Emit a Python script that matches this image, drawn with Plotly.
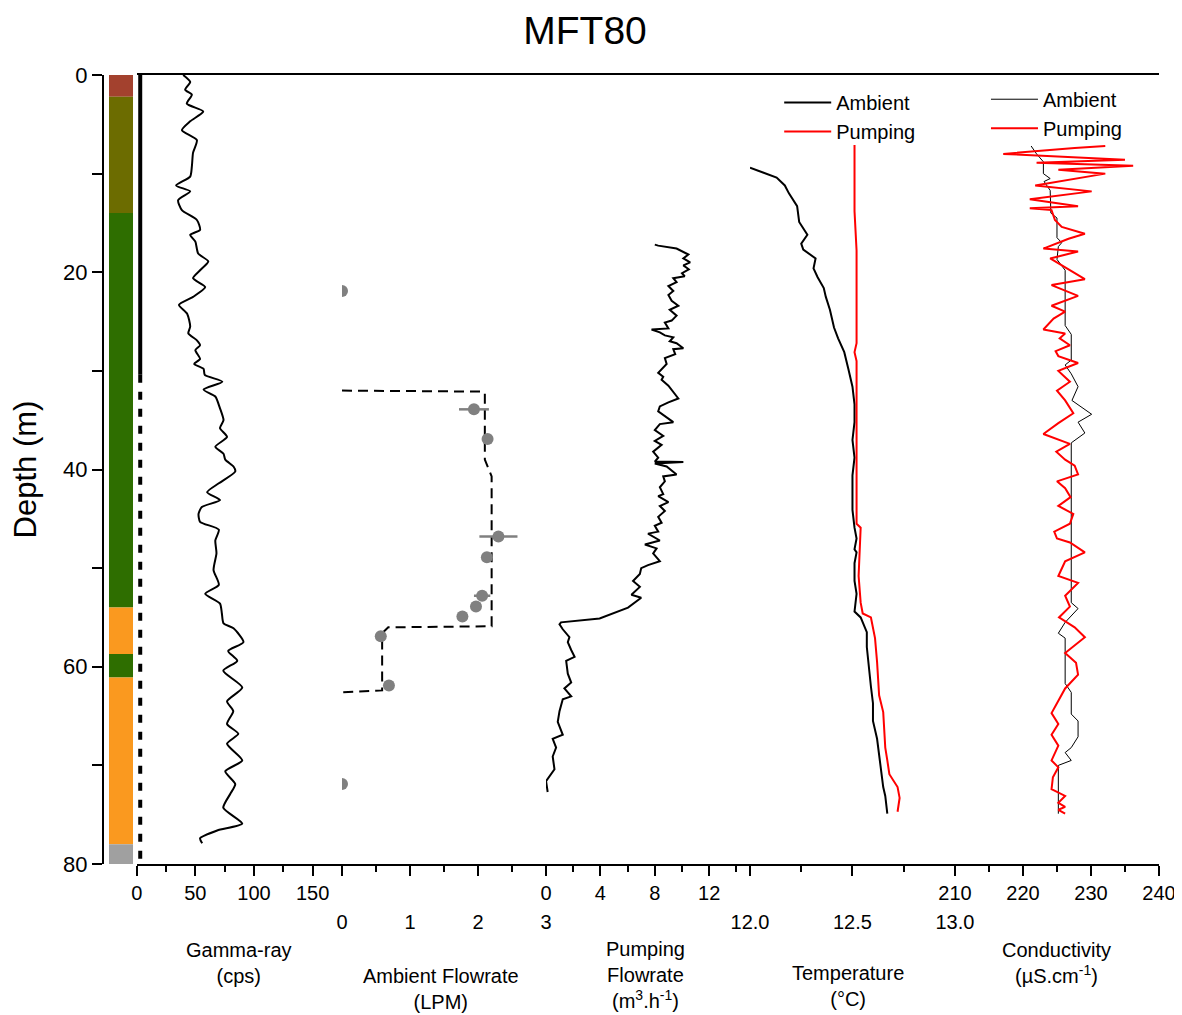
import plotly.graph_objects as go

# ---------------- data ----------------
litho_top = [0.0, 2.2, 14.0, 54.0, 58.7, 61.1, 78.0]
litho_bottom = [2.2, 14.0, 54.0, 58.7, 61.1, 78.0, 80.0]
litho_colors = ["#A3412E", "#6C6C00", "#2E6E00", "#FA991F", "#2E6E00", "#FA991F", "#A0A0A0"]

casing_solid_depth = [0.0, 30.4]
casing_dash_depth = [30.4, 79.7]
casing_cps = [3, 3]

gamma_depth = [0.0, 0.7, 1.5, 2.0, 2.9, 3.7, 4.7, 5.6, 6.6, 7.9, 9.3, 10.3, 11.2, 11.8, 12.7, 13.7,
               14.7, 15.7, 16.2, 16.9, 18.1, 18.9, 19.8, 20.6, 21.5, 22.5, 23.3, 24.2, 25.5, 26.2,
               26.9, 27.4, 27.9, 28.8, 29.3, 29.8, 30.4, 31.1, 31.9, 32.6, 33.8, 35.0, 35.8, 36.7,
               37.7, 38.4, 39.0, 39.7, 40.2, 41.4, 42.3, 43.1, 43.8, 44.5, 45.3, 46.1, 47.2, 48.5,
               50.2, 51.7, 52.6, 53.6, 54.6, 55.6, 56.1, 57.5, 58.4, 59.4, 60.4, 62.1, 63.5, 64.5,
               65.8, 66.8, 67.8, 69.5, 70.6, 71.9, 72.9, 74.3, 75.9, 76.6, 77.4, 77.9]
gamma_cps = [39.6, 45.6, 41.3, 47.0, 42.7, 56.7, 45.6, 38.5, 51.3, 48.0, 47.0, 45.6, 33.6, 45.6, 35.3, 38.5,
             51.3, 54.0, 45.6, 50.0, 52.4, 61.0, 54.0, 48.0, 58.4, 48.0, 36.0, 43.0, 45.6, 44.0,
             51.3, 54.0, 50.0, 54.0, 49.0, 57.0, 58.0, 73.0, 57.0, 67.0, 71.0, 74.0, 71.0, 77.0,
             67.0, 74.0, 75.5, 82.5, 84.0, 70.0, 60.0, 71.0, 55.5, 52.7, 54.0, 70.0, 67.0, 68.0,
             65.5, 70.0, 58.4, 71.0, 72.6, 74.0, 82.5, 91.0, 78.0, 85.7, 73.8, 90.0, 77.0, 82.3,
             77.0, 86.6, 77.0, 90.0, 75.5, 84.0, 79.7, 73.8, 90.0, 68.6, 54.0, 55.8]

amb_model_depth = [32.0, 32.1, 32.3, 39.0, 40.7, 55.9, 56.0, 56.6, 62.4, 62.6]
amb_model_flow = [0.0, 2.08, 2.10, 2.10, 2.20, 2.20, 0.68, 0.59, 0.59, 0.0]

amb_pt_depth = [21.9, 33.9, 36.9, 46.8, 48.9, 52.8, 53.9, 54.9, 56.9, 61.9, 71.9]
amb_pt_flow = [0.0, 1.94, 2.14, 2.30, 2.13, 2.06, 1.97, 1.77, 0.57, 0.69, 0.0]
amb_pt_err = [0.0, 0.22, 0.05, 0.28, 0.05, 0.12, 0.05, 0.05, 0.06, 0.05, 0.0]

pump_depth = [17.2, 17.3, 17.6, 18.2, 18.6, 19.0, 19.3, 19.7, 20.1, 20.4, 20.6, 21.0, 21.4, 21.9, 22.3,
              22.9, 23.4, 23.8, 24.4, 24.9, 25.1, 25.7, 25.8, 26.1, 26.4, 26.6, 27.0, 27.2, 27.7, 27.8,
              28.3, 28.7, 29.3, 30.2, 30.6, 30.9, 31.5, 32.1, 32.8, 33.2, 33.6, 34.1, 34.7, 35.2, 35.4,
              36.0, 36.6, 37.1, 37.5, 38.2, 38.8, 39.2, 39.25, 39.4, 39.7, 40.5, 40.7, 41.2, 41.8, 42.5,
              42.7, 43.3, 43.7, 44.2, 44.8, 45.4, 45.7, 46.3, 46.5, 47.2, 47.6, 48.0, 48.5, 49.3, 49.7,
              50.0, 50.6, 51.3, 51.9, 52.7, 53.0, 53.6, 54.0, 55.1, 55.5, 55.7, 56.2, 57.0, 57.5, 58.3,
              59.0, 59.4, 60.7, 61.6, 62.2, 63.0, 63.3, 64.5, 65.6, 66.9, 67.3, 68.2, 69.1, 70.4, 71.2,
              71.6, 72.7]
pump_flow = [8.0, 8.25, 9.6, 10.47, 10.1, 10.6, 10.1, 10.5, 10.0, 10.2, 9.36, 9.6, 9.0, 9.36, 9.0,
             9.24, 9.73, 9.1, 9.6, 9.24, 8.74, 9.0, 7.76, 8.37, 8.74, 9.36, 9.1, 9.6, 10.1, 9.36,
             9.5, 8.74, 8.87, 8.25, 8.62, 8.5, 9.0, 9.36, 9.73, 9.0, 8.37, 8.25, 8.87, 9.36, 8.37,
             8.0, 8.62, 8.0, 8.5, 7.88, 8.25, 8.0, 10.1, 8.0, 8.87, 9.6, 8.62, 8.74, 8.37, 8.62,
             8.25, 9.0, 8.37, 8.74, 8.25, 8.5, 8.0, 8.25, 7.5, 8.37, 7.27, 8.13, 7.88, 8.37, 7.5,
             7.0, 6.9, 6.4, 6.9, 6.28, 7.0, 6.4, 6.03, 3.94, 1.1, 0.99, 1.23, 1.72, 1.6, 1.85,
             2.1, 1.48, 1.6, 1.85, 1.35, 1.85, 1.23, 0.99, 0.86, 1.23, 0.49, 0.74, 0.49, 0.62, 0.25,
             0.0, 0.12]

temp_amb_depth = [9.4, 9.9, 10.4, 11.2, 12.0, 13.3, 14.9, 16.2, 17.1, 17.7, 18.6, 19.6, 20.5, 21.6, 22.5,
                  23.8, 24.7, 25.6, 26.7, 28.1, 29.8, 31.6, 33.4, 35.2, 37.0, 38.8, 40.6, 42.3, 44.1,
                  45.9, 47.0, 48.1, 48.4, 49.5, 51.3, 52.6, 54.4, 55.0, 56.5, 58.0, 60.2, 62.0, 63.7,
                  65.5, 67.3, 69.1, 70.4, 72.2, 73.1, 74.9]
temp_amb = [12.00, 12.07, 12.13, 12.17, 12.19, 12.23, 12.24, 12.28, 12.25, 12.26, 12.32, 12.31, 12.33,
            12.36, 12.37, 12.39, 12.40, 12.41, 12.43, 12.46, 12.48, 12.50, 12.51, 12.51, 12.50, 12.51,
            12.50, 12.50, 12.50, 12.51, 12.52, 12.51, 12.52, 12.51, 12.51, 12.52, 12.51, 12.54, 12.57,
            12.57, 12.58, 12.59, 12.60, 12.60, 12.62, 12.63, 12.64, 12.65, 12.66, 12.67]

temp_pump_depth = [7.1, 9.3, 13.8, 17.8, 27.2, 28.1, 29.0, 37.9, 45.5, 45.9, 50.8, 53.5, 54.6, 55.0,
                   57.1, 59.5, 62.9, 64.6, 68.2, 69.5, 70.9, 72.2, 73.3, 74.7]
temp_pump = [12.51, 12.51, 12.51, 12.52, 12.52, 12.51, 12.52, 12.52, 12.52, 12.54, 12.53, 12.54, 12.55,
             12.59, 12.61, 12.62, 12.63, 12.65, 12.66, 12.67, 12.68, 12.72, 12.73, 12.72]

cond_amb_depth = [7.2, 8.0, 8.8, 10.0, 10.5, 10.8, 11.7, 14.0, 14.5, 16.5, 17.0, 17.4, 18.7, 19.8, 25.4,
                  26.3, 28.9, 29.4, 30.3, 31.6, 33.0, 34.4, 35.2, 36.3, 37.3, 53.5, 54.1, 55.5, 56.6,
                  57.1, 61.7, 62.6, 64.8, 65.5, 67.1, 68.2, 68.7, 69.5, 70.0, 74.9]
cond_amb = [221.2, 222.0, 223.0, 223.0, 224.0, 223.1, 224.0, 224.1, 225.0, 225.0, 225.7, 225.2, 225.0,
            226.2, 226.2, 227.1, 227.1, 226.2, 227.1, 228.1, 227.2, 230.1, 228.1, 229.1, 227.1, 227.1,
            228.1, 226.2, 225.2, 226.2, 226.2, 227.1, 227.1, 228.1, 228.1, 227.1, 226.2, 227.1, 225.2,
            225.2]

cond_pump_depth = [7.2, 7.4, 8.0, 8.6, 8.9, 9.2, 9.6, 10.0, 11.2, 11.8, 12.6, 13.3, 13.5, 13.7, 14.7,
                   15.4, 16.1, 16.6, 17.6, 17.9, 18.6, 20.7, 21.3, 22.4, 23.4, 24.0, 24.7, 25.8, 26.2,
                   26.7, 27.4, 28.0, 28.5, 29.2, 30.0, 31.1, 32.0, 33.0, 34.3, 35.3, 36.4, 37.4, 38.2,
                   39.0, 39.6, 40.5, 41.2, 41.9, 42.8, 43.7, 44.5, 45.5, 46.3, 47.0, 47.4, 48.4, 49.3,
                   50.8, 51.5, 52.8, 53.9, 55.0, 56.0, 57.0, 58.6, 59.6, 60.8, 62.2, 63.7, 64.7, 65.8,
                   66.9, 68.0, 69.5, 70.2, 71.2, 72.4, 73.1, 73.8, 74.2, 74.5, 74.9]
cond_pump = [232.1, 227.6, 217.1, 235.0, 222.0, 236.2, 225.2, 232.1, 221.8, 230.1, 221.0, 228.1, 221.0,
             224.2, 224.7, 225.7, 229.1, 226.7, 223.0, 228.1, 224.0, 229.1, 224.2, 228.1, 224.2, 226.2,
             224.5, 223.0, 226.2, 225.4, 226.9, 224.8, 225.2, 228.1, 225.2, 226.9, 225.0, 226.2, 227.4,
             225.2, 223.0, 226.9, 224.9, 226.2, 227.6, 228.1, 225.0, 226.2, 227.0, 225.2, 227.4, 226.9,
             224.6, 225.0, 226.9, 229.1, 226.2, 225.2, 228.1, 226.2, 226.9, 225.3, 227.6, 229.1, 226.2,
             227.8, 228.1, 226.2, 225.0, 224.2, 225.2, 224.2, 225.2, 224.2, 225.2, 224.4, 224.2, 226.2,
             225.2, 226.2, 225.2, 226.2]

# ---------------- layout geometry ----------------
FONT = "Arial, 'Liberation Sans', sans-serif"
dom = {
    "litho": [0.0, 0.031],
    "gamma": [0.031, 0.2256],
    "amb": [0.2256, 0.4190],
    "pump": [0.4190, 0.6123],
    "temp": [0.6123, 0.8066],
    "cond": [0.8066, 1.0],
}

fig = go.Figure()

# lithology column
fig.add_trace(go.Bar(
    x=[0.52] * len(litho_top),
    y=[b - t for t, b in zip(litho_top, litho_bottom)],
    base=litho_top,
    width=0.734,
    marker=dict(color=litho_colors, line=dict(width=0)),
    xaxis="x", yaxis="y", showlegend=False, hoverinfo="skip",
))

# casing + gamma
fig.add_trace(go.Scatter(x=casing_cps, y=casing_solid_depth, mode="lines",
                         line=dict(color="black", width=4), xaxis="x2", yaxis="y", showlegend=False))
fig.add_trace(go.Scatter(x=casing_cps, y=casing_dash_depth, mode="lines",
                         line=dict(color="black", width=4, dash="8px,9px"), xaxis="x2", yaxis="y",
                         showlegend=False))
fig.add_trace(go.Scatter(x=gamma_cps, y=gamma_depth, mode="lines",
                         line=dict(color="black", width=2, shape="spline", smoothing=0.6),
                         xaxis="x2", yaxis="y", showlegend=False))

# ambient flowrate
fig.add_trace(go.Scatter(x=amb_model_flow, y=amb_model_depth, mode="lines",
                         line=dict(color="black", width=2, dash="10px,6px"), xaxis="x3", yaxis="y",
                         showlegend=False))
fig.add_trace(go.Scatter(x=amb_pt_flow, y=amb_pt_depth, mode="markers",
                         marker=dict(color="#808080", size=12),
                         error_x=dict(type="data", array=amb_pt_err, color="#808080", thickness=2.5, width=0),
                         xaxis="x3", yaxis="y", showlegend=False))

# pumping flowrate
fig.add_trace(go.Scatter(x=pump_flow, y=pump_depth, mode="lines",
                         line=dict(color="black", width=2), xaxis="x4", yaxis="y", showlegend=False))

# temperature
fig.add_trace(go.Scatter(x=temp_amb, y=temp_amb_depth, mode="lines", name="Ambient",
                         line=dict(color="black", width=2), xaxis="x5", yaxis="y", legend="legend"))
fig.add_trace(go.Scatter(x=temp_pump, y=temp_pump_depth, mode="lines", name="Pumping",
                         line=dict(color="red", width=2), xaxis="x5", yaxis="y", legend="legend"))

# conductivity
fig.add_trace(go.Scatter(x=cond_amb, y=cond_amb_depth, mode="lines", name="Ambient",
                         line=dict(color="black", width=1), xaxis="x6", yaxis="y", legend="legend2"))
fig.add_trace(go.Scatter(x=cond_pump, y=cond_pump_depth, mode="lines", name="Pumping",
                         line=dict(color="red", width=2), xaxis="x6", yaxis="y", legend="legend2"))


def xax(domain, rng, tickvals, minor_dtick, standoff=0, fmt=None):
    d = dict(domain=domain, range=rng, anchor="y", side="bottom", automargin=False,
             showline=True, linecolor="black", linewidth=2, mirror=True,
             ticks="outside", ticklen=10, tickwidth=2, tickcolor="black",
             tickvals=tickvals, showgrid=False, zeroline=False,
             tickfont=dict(family=FONT, size=20, color="black"),
             minor=dict(dtick=minor_dtick, tick0=rng[0], ticks="outside", ticklen=6,
                        tickwidth=2, tickcolor="black", showgrid=False),
             ticklabelstandoff=standoff)
    if fmt:
        d["tickformat"] = fmt
    return d


# the page body adds an 8 px offset, so the figure is drawn 8 px smaller
layout = dict(
    width=1174, height=1007,
    margin=dict(l=96, r=23, t=67, b=151, autoexpand=False),
    paper_bgcolor="white", plot_bgcolor="white",
    font=dict(family=FONT, color="black", size=20),
    title=dict(text="MFT80", x=0.4915, xref="container", xanchor="center",
               y=0.978, yref="container", yanchor="middle", automargin=False,
               font=dict(family=FONT, size=39, color="black")),
    barmode="overlay",
    xaxis=dict(domain=dom["litho"], range=[0, 1], anchor="y", visible=False, fixedrange=True,
               automargin=False),
    xaxis2=xax(dom["gamma"], [0, 175], [0, 50, 100, 150], 25),
    xaxis3=xax(dom["amb"], [0, 3], [0, 1, 2, 3], 0.5, standoff=29),
    xaxis4=xax(dom["pump"], [0, 15], [0, 4, 8, 12], 2),
    xaxis5=xax(dom["temp"], [12, 13], [12.0, 12.5, 13.0], 0.25, standoff=29, fmt=".1f"),
    xaxis6=xax(dom["cond"], [210, 240], [210, 220, 230, 240], 5),
    yaxis=dict(domain=[0, 1], range=[80, 0], autorange=False, anchor="x", side="left",
               automargin=False,
               showline=True, linecolor="black", linewidth=2,
               ticks="outside", ticklen=10, tickwidth=2, tickcolor="black",
               tickvals=[0, 20, 40, 60, 80], showgrid=False, zeroline=False,
               minor=dict(dtick=10, tick0=0, ticks="outside", ticklen=10, tickwidth=2,
                          tickcolor="black", showgrid=False),
               tickfont=dict(family=FONT, size=22, color="black"),
               title=dict(text="Depth (m)", font=dict(family=FONT, size=31, color="black"), standoff=18)),
    legend=dict(x=0.640, y=0.990, xanchor="left", yanchor="top", bgcolor="rgba(0,0,0,0)",
                font=dict(family=FONT, size=20, color="black"), tracegroupgap=0, itemwidth=47),
    legend2=dict(x=0.836, y=0.994, xanchor="left", yanchor="top", bgcolor="rgba(0,0,0,0)",
                 font=dict(family=FONT, size=20, color="black"), tracegroupgap=0, itemwidth=47),
    showlegend=True,
)

# panel right borders with inward depth ticks
for i, pos in enumerate([dom["gamma"][1], dom["amb"][1], dom["pump"][1], dom["temp"][1], 1.0]):
    layout["yaxis%d" % (i + 2)] = dict(
        overlaying="y", matches="y", anchor="free", position=pos, side="left", automargin=False,
        showline=True, linecolor="black", linewidth=2,
        ticks="outside", ticklen=10, tickwidth=2, tickcolor="black",
        tick0=0, dtick=10, showticklabels=False, showgrid=False, zeroline=False,
    )

fig.update_layout(**layout)

# axis titles below the panels
titles = [
    ("Gamma-ray<br>(cps)", 0.128, -0.1261),
    ("Ambient Flowrate<br>(LPM)", 0.3194, -0.1578),
    ("Pumping<br>Flowrate<br>(m<sup>3</sup>.h<sup>-1</sup>)", 0.5128, -0.1401),
    ("Temperature<br>(°C)", 0.7052, -0.1546),
    ("Conductivity<br>(µS.cm<sup>-1</sup>)", 0.9033, -0.1261),
]
for txt, xp, yp in titles:
    fig.add_annotation(text=txt, x=xp, y=yp, xref="paper", yref="paper",
                       xanchor="center", yanchor="middle", showarrow=False,
                       font=dict(family=FONT, size=20, color="black"))

fig.write_html("out.html")
